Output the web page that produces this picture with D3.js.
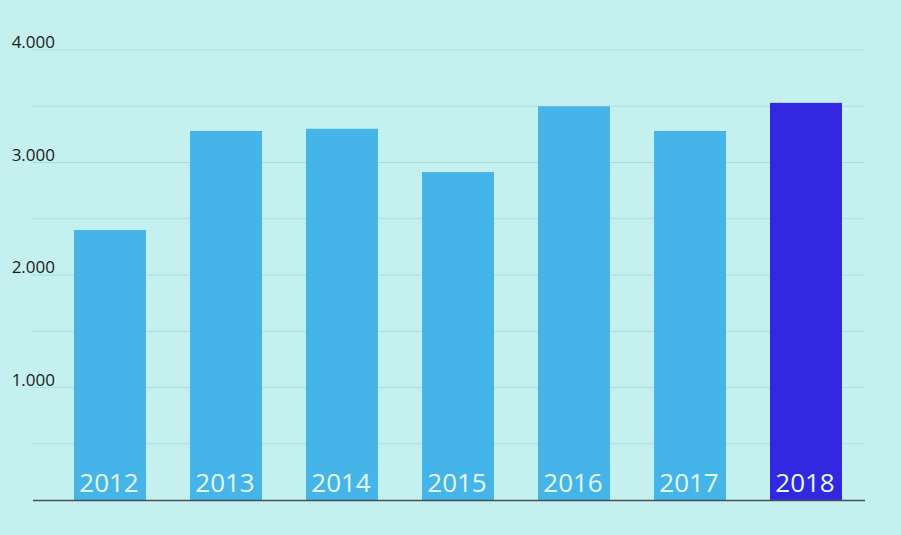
<!DOCTYPE html>
<html><head><meta charset="utf-8">
<script src="https://cdn.jsdelivr.net/npm/d3@7"></script>
<style>html,body{margin:0;padding:0;background:#c4f1ef;}svg{display:block;}</style>
</head><body><svg id="c" width="901" height="535"></svg>
<script>
const years = ["2012","2013","2014","2015","2016","2017","2018"];
const values = [2400, 3280, 3300, 2915, 3500, 3280, 3530];
const highlightYear = "2018";
const gridTicks = [500, 1000, 1500, 2000, 2500, 3000, 3500, 4000];
const labelTicks = [1000, 2000, 3000, 4000];
const tickLabels = ["1.000", "2.000", "3.000", "4.000"];

const svg = d3.select("#c");
svg.append("rect").attr("width",901).attr("height",535).attr("fill","#c4f1ef");

const y = d3.scaleLinear().domain([0,4000]).range([500,50]);
const x = d3.scaleBand().domain(years).range([74,842]).paddingInner(44/116).paddingOuter(0);

// gridlines
svg.append("g").selectAll("line").data(gridTicks).join("line")
  .attr("x1",32).attr("x2",865)
  .attr("y1",d=>y(d)).attr("y2",d=>y(d))
  .attr("stroke","#a9dedd").attr("stroke-width",1);

// y labels
svg.append("g").selectAll("text").data(labelTicks).join("text")
  .attr("x",55).attr("y",d=>y(d)-2)
  .attr("text-anchor","end")
  .attr("font-family","'Open Sans', sans-serif").attr("font-size",17)
  .attr("fill","#1a1a1a")
  .text((d,i)=>tickLabels[i]);

// bars
svg.append("g").selectAll("rect").data(years).join("rect")
  .attr("x",d=>x(d)).attr("width",x.bandwidth())
  .attr("y",(d,i)=>y(values[i])).attr("height",(d,i)=>y(0)-y(values[i]))
  .attr("fill",d=>d===highlightYear?"#3228e0":"#45b5e9");

// year labels
svg.append("g").selectAll("text").data(years).join("text")
  .attr("x",d=>x(d)+x.bandwidth()/2-1).attr("y",492)
  .attr("text-anchor","middle")
  .attr("font-family","'Open Sans', sans-serif").attr("font-size",26)
  .attr("fill","#e4f8f6")
  .text(d=>d);

// baseline axis
svg.append("line").attr("x1",33).attr("x2",865).attr("y1",y(0)+0.5).attr("y2",y(0)+0.5)
  .attr("stroke","#4a4f55").attr("stroke-width",1.5);
</script></body></html>
